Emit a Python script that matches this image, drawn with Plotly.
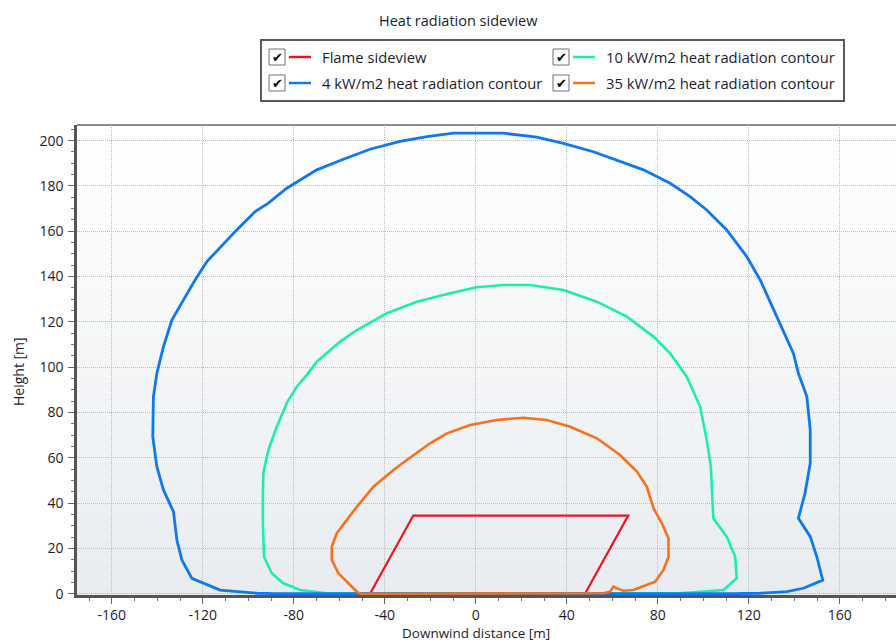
import plotly.graph_objects as go

# ---------------- data ----------------
flame_x = [-46.5, -27.5, 67.0, 48.0, -46.5]
flame_y = [0.0, 34.5, 34.5, 0.0, 0.0]

c4_x = [-88, -96.3, -112.4, -124.8, -129.2, -131.4, -132.9, -137.3, -140.2, -142.0, -141.7, -140.2,
        -137.3, -133.6, -128.5, -123.4, -118.2, -110.2, -105.1, -97.0, -91.2, -83.1, -69.9, -58.2,
        -46.5, -33.3, -21.5, -9.8, 1.9, 12.1, 26.8, 38.5, 51.7, 63.4, 73.7, 85.4, 94.2, 101.5, 110.3,
        119.1, 125.0, 132.3, 139.6, 141.8, 145.5, 147.0, 147.0, 144.7, 141.8, 147.0, 149.9, 152.5,
        144.0, 136.7, 125.0, 112.0, -88]
c4_y = [0.0, 0.2, 1.6, 6.8, 14.9, 23.7, 36.2, 45.8, 56.1, 69.3, 87.0, 97.3,
        109.1, 120.8, 129.7, 138.5, 146.6, 155.4, 160.6, 168.7, 172.4, 179.0, 187.1, 191.8,
        196.2, 199.7, 201.8, 203.3, 203.3, 203.3, 201.5, 198.8, 195.1, 190.7, 187.1, 181.2, 175.3, 169.4, 160.6,
        148.8, 138.5, 122.3, 106.1, 97.3, 87.0, 72.3, 57.6, 44.3, 33.3, 25.2, 16.3, 6.0,
        2.4, 0.9, 0.2, 0.0, 0.0]

c10_x = [-65.5, -77.2, -84.6, -89.7, -93.1, -93.6, -93.6, -93.4, -91.2, -87.5, -83.1, -78.7, -74.3,
         -69.9, -59.6, -52.3, -39.1, -25.9, -11.3, 0.4, 12.1, 23.9, 38.5, 53.2, 66.4, 78.1, 85.4,
         92.7, 98.6, 101.5, 103.3, 103.7, 104.4, 110.3, 114.0, 114.7, 108.8, 100.0, 89.8, -65.5]
c10_y = [0.2, 1.6, 4.6, 9.0, 16.3, 31.1, 42.8, 53.2, 63.4, 73.7, 84.1, 91.4, 96.6,
         102.4, 111.3, 116.4, 123.8, 128.9, 132.6, 135.3, 136.3, 136.3, 134.1, 128.9, 122.3, 113.5, 106.1,
         95.8, 82.6, 67.9, 56.1, 44.3, 33.3, 25.2, 16.3, 6.8, 1.6, 0.9, 0.2, 0.2]

c35_x = [-51.0, -52.3, -56.0, -60.4, -63.3, -63.3, -61.1, -56.7, -52.3, -45.0, -36.2, -30.3, -20.1,
         -12.7, -2.5, 9.2, 20.9, 31.2, 41.5, 53.2, 63.4, 70.8, 75.2, 78.1, 81.8, 84.7, 84.7, 82.5,
         78.8, 69.3, 64.9, 62.0, 60.5, 59.0, 56.1, -51.0]
c35_y = [0.0, 0.9, 4.6, 9.0, 14.9, 20.8, 26.7, 32.5, 38.4, 47.2, 54.6, 59.0, 66.4,
         70.8, 74.5, 76.7, 77.7, 76.7, 73.7, 68.6, 61.2, 53.9, 47.2, 37.7, 31.1, 24.5, 16.3, 10.5,
         5.3, 1.6, 1.3, 2.4, 3.1, 0.9, 0.2, 0.0]

series_names = ["Flame sideview", "10 kW/m2 heat radiation contour",
                "4 kW/m2 heat radiation contour", "35 kW/m2 heat radiation contour"]
x_ticks = [-160, -120, -80, -40, 0, 40, 80, 120, 160]
y_ticks = [0, 20, 40, 60, 80, 100, 120, 140, 160, 180, 200]

COL_RED = "#F2121A"
COL_GREEN = "#1DEFAA"
COL_BLUE = "#0F78F0"
COL_ORANGE = "#F8701C"

FONT = "Open Sans"
TXT = "#1c1c30"

W, H = 896, 643
PL, PR, PT, PB = 77, 896, 125, 595  # plot area in pixels


def px(xp):
    return (xp - PL) / (PR - PL)


def py(yp):
    return (PB - yp) / (PB - PT)


fig = go.Figure()
fig.add_trace(go.Scatter(x=flame_x, y=flame_y, mode="lines", line=dict(color=COL_RED, width=2.2),
                         name=series_names[0], showlegend=False))
fig.add_trace(go.Scatter(x=c10_x, y=c10_y, mode="lines", line=dict(color=COL_GREEN, width=2.6),
                         name=series_names[1], showlegend=False))
fig.add_trace(go.Scatter(x=c4_x, y=c4_y, mode="lines", line=dict(color=COL_BLUE, width=2.8),
                         name=series_names[2], showlegend=False))
fig.add_trace(go.Scatter(x=c35_x, y=c35_y, mode="lines", line=dict(color=COL_ORANGE, width=2.6),
                         name=series_names[3], showlegend=False))

shapes = []
# gradient background
N = 60
top_rgb = (255, 255, 255)
bot_rgb = (232, 236, 240)
for i in range(N):
    t = (i + 0.5) / N
    c = tuple(int(round(top_rgb[k] + (bot_rgb[k] - top_rgb[k]) * t)) for k in range(3))
    shapes.append(dict(type="rect", xref="paper", yref="paper", x0=0, x1=1,
                       y0=1 - (i + 1) / N, y1=1 - i / N + 0.001, layer="below",
                       line=dict(width=0), fillcolor="rgb(%d,%d,%d)" % c))
# top border
shapes.append(dict(type="line", xref="paper", yref="paper", x0=0, x1=1, y0=1, y1=1,
                   line=dict(color="#8c8c8c", width=2)))

annotations = []
# legend box
shapes.append(dict(type="rect", xref="paper", yref="paper", x0=px(261), x1=px(844), y0=py(101), y1=py(40),
                   line=dict(color="#5a5a5a", width=2), fillcolor="white"))
legend_items = [
    (series_names[0], COL_RED, 269, 57),
    (series_names[2], COL_BLUE, 269, 83),
    (series_names[1], COL_GREEN, 553, 57),
    (series_names[3], COL_ORANGE, 553, 83),
]
for name, col, bx, cy in legend_items:
    shapes.append(dict(type="rect", xref="paper", yref="paper", x0=px(bx), x1=px(bx + 16),
                       y0=py(cy + 8), y1=py(cy - 8), line=dict(color="#707070", width=1),
                       fillcolor="white"))
    annotations.append(dict(xref="paper", yref="paper", x=px(bx + 8), y=py(cy), text="✔",
                            showarrow=False, xanchor="center", yanchor="middle",
                            font=dict(family="DejaVu Sans", size=13, color="#000")))
    shapes.append(dict(type="line", xref="paper", yref="paper", x0=px(bx + 20), x1=px(bx + 42),
                       y0=py(cy), y1=py(cy), line=dict(color=col, width=2.5)))
    annotations.append(dict(xref="paper", yref="paper", x=px(bx + 51), y=py(cy), text=name,
                            showarrow=False, xanchor="left", yanchor="middle",
                            font=dict(family=FONT, size=14.8, color=TXT)))

# title
annotations.append(dict(xref="paper", yref="paper", x=px(458), y=py(20), text="Heat radiation sideview",
                        showarrow=False, xanchor="center", yanchor="middle",
                        font=dict(family=FONT, size=14.5, color=TXT)))
# axis titles
annotations.append(dict(xref="paper", yref="paper", x=px(18), y=py(372), text="Height [m]",
                        showarrow=False, xanchor="center", yanchor="middle", textangle=-90,
                        font=dict(family=FONT, size=14, color=TXT)))
annotations.append(dict(xref="paper", yref="paper", x=px(476), y=py(643), text="Downwind distance [m]",
                        showarrow=False, xanchor="center", yanchor="bottom", borderpad=0,
                        font=dict(family=FONT, size=13.5, color=TXT)))

axis_common = dict(showline=True, linecolor="#555555", linewidth=2.5, ticks="outside",
                   tickcolor="#666666", ticklen=6, tickwidth=1.2, showgrid=True,
                   gridcolor="#bcbcbc", griddash="1px,1px", gridwidth=1, zeroline=False,
                   tickfont=dict(family=FONT, size=14, color=TXT))

fig.update_layout(
    width=W, height=H,
    margin=dict(l=PL, r=W - PR, t=PT, b=H - PB, pad=0),
    paper_bgcolor="white", plot_bgcolor="white",
    showlegend=False,
    shapes=shapes, annotations=annotations,
    xaxis=dict(range=[-175.3, 184.7], tickvals=x_ticks, ticktext=[str(v) for v in x_ticks],
               ticklabelstandoff=-1,
               minor=dict(dtick=10, tick0=0, ticklen=3, tickcolor="#777777", showgrid=False, ticks="outside"),
               **axis_common),
    yaxis=dict(range=[-0.57, 206.9], tickvals=y_ticks, ticktext=[str(v) for v in y_ticks],
               ticklabelstandoff=2,
               minor=dict(dtick=5, tick0=0, ticklen=3, tickcolor="#777777", showgrid=False, ticks="outside"),
               **axis_common),
)

fig.write_html("out.html")
